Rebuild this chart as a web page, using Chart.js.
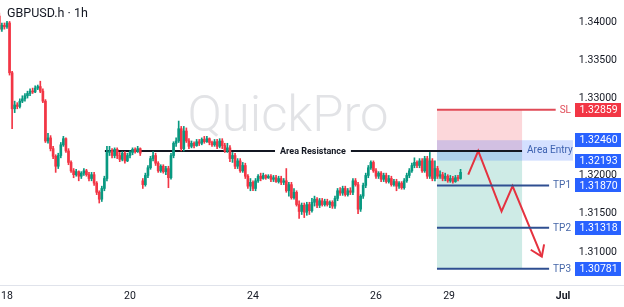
<!DOCTYPE html>
<html>
<head>
<meta charset="utf-8">
<script src="https://cdn.jsdelivr.net/npm/chart.js@4.4.1/dist/chart.umd.min.js"></script>
<style>
  html, body { margin: 0; padding: 0; background: #fff; }
  #wrap { width: 624px; height: 307px; }
</style>
</head>
<body>
<div id="wrap"><canvas id="myChart"></canvas></div>
<script>
// hourly candles, hour 0 = the "18" label
const firstHour = -3;
const opens = [
  1.3408, 1.3391, 1.3396, 1.3394, 1.3399, 1.3334, 1.3287, 1.3292, 1.3290, 1.3297,
  1.3300, 1.3304, 1.3307, 1.3310, 1.3309, 1.3314, 1.3316, 1.3310, 1.3297, 1.3245,
  1.3249, 1.3235, 1.3225, 1.3212, 1.3226, 1.3240, 1.3248, 1.3232, 1.3217, 1.3206,
  1.3201, 1.3205, 1.3199, 1.3203, 1.3206, 1.3201, 1.3196, 1.3201, 1.3190, 1.3178,
  1.3169, 1.3183, 1.3196, 1.3230, 1.3232, 1.3226, 1.3234, 1.3226, 1.3221, 1.3229,
  1.3219, 1.3226, 1.3230, 1.3234, 1.3231, 1.3235, 1.3193, 1.3188, 1.3200, 1.3210,
  1.3222, 1.3226, 1.3216, 1.3206, 1.3212, 1.3205, 1.3209, 1.3197, 1.3226, 1.3242,
  1.3245, 1.3261, 1.3235, 1.3258, 1.3245, 1.3238, 1.3242, 1.3239, 1.3244, 1.3242,
  1.3247, 1.3244, 1.3248, 1.3243, 1.3240, 1.3244, 1.3238, 1.3245, 1.3239, 1.3232,
  1.3236, 1.3222, 1.3226, 1.3212, 1.3219, 1.3206, 1.3213, 1.3199, 1.3186, 1.3191,
  1.3183, 1.3193, 1.3199, 1.3196, 1.3200, 1.3197, 1.3199, 1.3195, 1.3197, 1.3192,
  1.3196, 1.3191, 1.3193, 1.3180, 1.3188, 1.3171, 1.3178, 1.3162, 1.3153, 1.3161,
  1.3152, 1.3162, 1.3154, 1.3165, 1.3169, 1.3161, 1.3167, 1.3162, 1.3166, 1.3162,
  1.3165, 1.3160, 1.3170, 1.3180, 1.3177, 1.3183, 1.3175, 1.3180, 1.3178, 1.3193,
  1.3188, 1.3156, 1.3173, 1.3187, 1.3200, 1.3210, 1.3217, 1.3206, 1.3199, 1.3203,
  1.3195, 1.3200, 1.3192, 1.3196, 1.3188, 1.3192, 1.3186, 1.3190, 1.3184, 1.3193,
  1.3200, 1.3206, 1.3213, 1.3217, 1.3213, 1.3219, 1.3206, 1.3222, 1.3199, 1.3219,
  1.3196, 1.3209, 1.3199, 1.3201, 1.3196, 1.3199, 1.3193, 1.3196, 1.3192, 1.3197, 1.3196
];
const highs = [
  1.3412, 1.3399, 1.3399, 1.3401, 1.3401, 1.3336, 1.3297, 1.3295, 1.3300, 1.3304,
  1.3307, 1.3310, 1.3313, 1.3314, 1.3317, 1.3318, 1.3323, 1.3313, 1.3299, 1.3255,
  1.3252, 1.3238, 1.3227, 1.3229, 1.3243, 1.3251, 1.3249, 1.3235, 1.3219, 1.3209,
  1.3208, 1.3206, 1.3205, 1.3209, 1.3208, 1.3204, 1.3204, 1.3204, 1.3192, 1.3180,
  1.3186, 1.3199, 1.3238, 1.3238, 1.3235, 1.3236, 1.3236, 1.3230, 1.3231, 1.3231,
  1.3229, 1.3232, 1.3236, 1.3236, 1.3238, 1.3236, 1.3196, 1.3203, 1.3213, 1.3225,
  1.3231, 1.3229, 1.3218, 1.3214, 1.3214, 1.3212, 1.3212, 1.3229, 1.3244, 1.3249,
  1.3271, 1.3264, 1.3264, 1.3262, 1.3248, 1.3245, 1.3244, 1.3247, 1.3247, 1.3249,
  1.3251, 1.3251, 1.3249, 1.3245, 1.3247, 1.3247, 1.3248, 1.3248, 1.3242, 1.3242,
  1.3239, 1.3230, 1.3229, 1.3222, 1.3222, 1.3217, 1.3216, 1.3201, 1.3196, 1.3193,
  1.3196, 1.3201, 1.3203, 1.3203, 1.3201, 1.3201, 1.3201, 1.3200, 1.3200, 1.3199,
  1.3199, 1.3196, 1.3209, 1.3191, 1.3191, 1.3183, 1.3180, 1.3167, 1.3164, 1.3164,
  1.3165, 1.3165, 1.3170, 1.3173, 1.3171, 1.3170, 1.3170, 1.3169, 1.3169, 1.3167,
  1.3167, 1.3173, 1.3183, 1.3184, 1.3186, 1.3186, 1.3183, 1.3184, 1.3196, 1.3196,
  1.3191, 1.3175, 1.3190, 1.3203, 1.3213, 1.3219, 1.3219, 1.3209, 1.3205, 1.3205,
  1.3203, 1.3203, 1.3200, 1.3199, 1.3195, 1.3195, 1.3192, 1.3192, 1.3196, 1.3203,
  1.3209, 1.3216, 1.3223, 1.3219, 1.3222, 1.3222, 1.3225, 1.3225, 1.3230, 1.3222,
  1.3219, 1.3212, 1.3206, 1.3204, 1.3203, 1.3201, 1.3200, 1.3199, 1.3200, 1.3200, 1.3208
];
const lows = [
  1.3388, 1.3388, 1.3391, 1.3392, 1.3331, 1.3261, 1.3282, 1.3287, 1.3288, 1.3295,
  1.3297, 1.3301, 1.3304, 1.3307, 1.3308, 1.3312, 1.3308, 1.3295, 1.3243, 1.3242,
  1.3232, 1.3222, 1.3204, 1.3209, 1.3223, 1.3238, 1.3230, 1.3214, 1.3204, 1.3197,
  1.3199, 1.3193, 1.3196, 1.3200, 1.3199, 1.3193, 1.3193, 1.3187, 1.3175, 1.3164,
  1.3166, 1.3180, 1.3193, 1.3226, 1.3223, 1.3223, 1.3222, 1.3218, 1.3219, 1.3216,
  1.3218, 1.3223, 1.3227, 1.3229, 1.3230, 1.3226, 1.3183, 1.3186, 1.3197, 1.3208,
  1.3219, 1.3213, 1.3204, 1.3204, 1.3203, 1.3201, 1.3184, 1.3195, 1.3223, 1.3238,
  1.3243, 1.3232, 1.3232, 1.3243, 1.3235, 1.3236, 1.3236, 1.3238, 1.3239, 1.3240,
  1.3242, 1.3243, 1.3240, 1.3238, 1.3238, 1.3235, 1.3236, 1.3235, 1.3230, 1.3230,
  1.3218, 1.3217, 1.3209, 1.3209, 1.3204, 1.3204, 1.3196, 1.3183, 1.3180, 1.3180,
  1.3180, 1.3191, 1.3193, 1.3195, 1.3195, 1.3196, 1.3192, 1.3192, 1.3191, 1.3190,
  1.3188, 1.3188, 1.3178, 1.3173, 1.3169, 1.3169, 1.3160, 1.3144, 1.3149, 1.3145,
  1.3148, 1.3149, 1.3152, 1.3160, 1.3158, 1.3158, 1.3160, 1.3160, 1.3160, 1.3158,
  1.3157, 1.3157, 1.3167, 1.3174, 1.3174, 1.3173, 1.3173, 1.3175, 1.3175, 1.3186,
  1.3150, 1.3153, 1.3170, 1.3184, 1.3197, 1.3208, 1.3204, 1.3196, 1.3196, 1.3192,
  1.3192, 1.3190, 1.3190, 1.3186, 1.3186, 1.3180, 1.3183, 1.3182, 1.3182, 1.3191,
  1.3197, 1.3204, 1.3210, 1.3210, 1.3210, 1.3204, 1.3204, 1.3196, 1.3196, 1.3193,
  1.3193, 1.3196, 1.3196, 1.3193, 1.3193, 1.3191, 1.3191, 1.3190, 1.3191, 1.3193, 1.3195
];
const closes = [
  1.3391, 1.3396, 1.3394, 1.3399, 1.3334, 1.3287, 1.3292, 1.3290, 1.3297, 1.3300,
  1.3304, 1.3307, 1.3310, 1.3309, 1.3314, 1.3316, 1.3310, 1.3297, 1.3245, 1.3249,
  1.3235, 1.3225, 1.3212, 1.3226, 1.3240, 1.3248, 1.3232, 1.3217, 1.3206, 1.3201,
  1.3205, 1.3199, 1.3203, 1.3206, 1.3201, 1.3196, 1.3201, 1.3190, 1.3178, 1.3169,
  1.3183, 1.3196, 1.3230, 1.3232, 1.3226, 1.3234, 1.3226, 1.3221, 1.3229, 1.3219,
  1.3226, 1.3230, 1.3234, 1.3231, 1.3235, 1.3229, 1.3188, 1.3200, 1.3210, 1.3222,
  1.3226, 1.3216, 1.3206, 1.3212, 1.3205, 1.3209, 1.3197, 1.3226, 1.3242, 1.3245,
  1.3261, 1.3235, 1.3258, 1.3245, 1.3238, 1.3242, 1.3239, 1.3244, 1.3242, 1.3247,
  1.3244, 1.3248, 1.3243, 1.3240, 1.3244, 1.3238, 1.3245, 1.3239, 1.3232, 1.3236,
  1.3222, 1.3226, 1.3212, 1.3219, 1.3206, 1.3213, 1.3199, 1.3186, 1.3191, 1.3183,
  1.3193, 1.3199, 1.3196, 1.3200, 1.3197, 1.3199, 1.3195, 1.3197, 1.3192, 1.3196,
  1.3191, 1.3193, 1.3180, 1.3188, 1.3171, 1.3178, 1.3162, 1.3153, 1.3161, 1.3152,
  1.3162, 1.3154, 1.3165, 1.3169, 1.3161, 1.3167, 1.3162, 1.3166, 1.3162, 1.3165,
  1.3160, 1.3170, 1.3180, 1.3177, 1.3183, 1.3175, 1.3180, 1.3178, 1.3193, 1.3188,
  1.3156, 1.3173, 1.3187, 1.3200, 1.3210, 1.3217, 1.3206, 1.3199, 1.3203, 1.3195,
  1.3200, 1.3192, 1.3196, 1.3188, 1.3192, 1.3186, 1.3190, 1.3184, 1.3193, 1.3200,
  1.3206, 1.3213, 1.3217, 1.3213, 1.3219, 1.3206, 1.3222, 1.3199, 1.3219, 1.3196,
  1.3209, 1.3199, 1.3201, 1.3196, 1.3199, 1.3193, 1.3196, 1.3192, 1.3197, 1.3196, 1.3204
];

// axes
const xTickHours = [0, 48, 96, 144, 172.5, 217];
const xTickLabels = ["18", "20", "24", "26", "29", "Jul"];
const yTickValues = [1.34, 1.335, 1.33, 1.32, 1.315, 1.31];

// trade plan
const levelNames = ["SL", "TP1", "TP2", "TP3"];
const levelPrices = [1.32859, 1.31870, 1.31318, 1.30781];
const entryZone = [1.32460, 1.32193];
const entryPrice = 1.3232;
const resistanceStart = 38.2;
const planStart = 167.8;
const planEnd = 201;
const levelEnd = 214.6;
const resistanceLabelHour = 119.4;

// projected path (hour, price)
const pathHours = [180, 183.9, 193, 197.3, 208.7];
const pathPrices = [1.3201, 1.3232, 1.3153, 1.3186, 1.3094];
const headHours = [204.4, 208.7, 209.6];
const headPrices = [1.3103, 1.3094, 1.3110];

const upColor = "#089981";
const downColor = "#f23645";
const textColor = "#131722";
const FONT = "Roboto";

const candleColors = closes.map((c, i) => c >= opens[i] ? upColor : downColor);
const wickData = highs.map((h, i) => ({ x: firstHour + i, y: [lows[i], h] }));
const bodyData = opens.map((o, i) => ({ x: firstHour + i, y: [Math.min(o, closes[i]), Math.max(o, closes[i])] }));

function lineSet(xs, ys, color, width) {
    return {
        type: "line",
        data: xs.map((x, i) => ({ x: x, y: ys[i] })),
        borderColor: color,
        borderWidth: width,
        pointRadius: 0,
        fill: false,
        tension: 0
    };
}

// no extra room for edge labels
function noPadding(s) {
    s.paddingTop = 0;
    s.paddingBottom = 0;
    s.paddingLeft = 0;
    s.paddingRight = 0;
}

const levelColors = ["#e04b57", "#2f4f91", "#2f4f91", "#2f4f91"];
const levelSets = levelPrices.map((p, i) => lineSet([planStart, levelEnd], [p, p], levelColors[i], 2));

// drawing of zones, watermark and labels
const overlay = {
    id: "overlay",
    beforeDatasetsDraw(chart) {
        const { ctx, chartArea } = chart;
        const px = v => chart.scales.x.getPixelForValue(v);
        const py = v => chart.scales.y.getPixelForValue(v);
        ctx.save();

        // watermark
        ctx.font = "300 50px " + FONT;
        let w = ctx.measureText("QuickPro").width;
        let size = 50 * 201 / w;
        ctx.font = "300 " + size.toFixed(1) + "px " + FONT;
        ctx.fillStyle = "#e2e3e6";
        ctx.textAlign = "center";
        ctx.textBaseline = "alphabetic";
        ctx.fillText("QuickPro", 288, 131);

        // bottom axis line
        ctx.fillStyle = "#e0e3eb";
        ctx.fillRect(0, Math.round(chartArea.bottom), chart.width, 1);

        // risk / reward boxes
        const x0 = px(planStart), x1 = px(planEnd);
        ctx.fillStyle = "rgba(242,54,69,0.2)";
        ctx.fillRect(x0, py(levelPrices[0]), x1 - x0, py(entryPrice) - py(levelPrices[0]));
        ctx.fillStyle = "rgba(8,153,129,0.2)";
        ctx.fillRect(x0, py(entryPrice), x1 - x0, py(levelPrices[3]) - py(entryPrice));

        // entry zone band
        ctx.fillStyle = "rgba(41,98,255,0.2)";
        ctx.fillRect(x0, py(entryZone[0]), chartArea.right - 2 - x0, py(entryZone[1]) - py(entryZone[0]));
        ctx.restore();
    },
    afterDatasetsDraw(chart) {
        const { ctx, chartArea } = chart;
        const px = v => chart.scales.x.getPixelForValue(v);
        const py = v => chart.scales.y.getPixelForValue(v);
        ctx.save();
        ctx.textBaseline = "middle";

        // resistance label
        ctx.font = "bold 9px " + FONT;
        const rText = "Area Resistance";
        const rw = ctx.measureText(rText).width;
        const rx = px(resistanceLabelHour), ry = py(entryPrice);
        ctx.fillStyle = "#fff";
        ctx.fillRect(rx - rw / 2 - 5, ry - 5, rw + 10, 10);
        ctx.fillStyle = textColor;
        ctx.textAlign = "center";
        ctx.fillText(rText, rx, ry + 0.5);

        // entry zone text
        ctx.font = "10px " + FONT;
        ctx.textAlign = "left";
        ctx.fillStyle = "#3d62b0";
        ctx.fillText("Area Entry", px(planEnd) + 5, (py(entryZone[0]) + py(entryZone[1])) / 2 + 0.5);

        // level names
        const nameRight = chartArea.right - 4;
        levelNames.forEach((n, i) => {
            const y = py(levelPrices[i]);
            const tw = ctx.measureText(n).width;
            ctx.fillStyle = "#fff";
            ctx.fillRect(nameRight - tw - 4, y - 3, tw + 4, 6);
            ctx.fillStyle = i === 0 ? "#e04b57" : "#4566a8";
            ctx.textAlign = "right";
            ctx.fillText(n, nameRight, y + 0.5);
        });

        // price boxes on the scale
        const boxes = [
            [levelPrices[0], downColor],
            [entryZone[0], "#2962ff"],
            [entryZone[1], "#2962ff"],
            [levelPrices[1], "#2962ff"],
            [levelPrices[2], "#2962ff"],
            [levelPrices[3], "#2962ff"]
        ];
        ctx.font = "10.5px " + FONT;
        ctx.textAlign = "center";
        boxes.forEach(([p, c]) => {
            const y = py(p);
            ctx.fillStyle = c;
            ctx.fillRect(chartArea.right, Math.round(y - 7), 46, 14);
            ctx.fillStyle = "#fff";
            ctx.fillText(p.toFixed(5), chartArea.right + 23.5, y + 0.5);
        });

        // symbol title
        ctx.font = "12.5px " + FONT;
        ctx.textAlign = "left";
        ctx.fillStyle = textColor;
        ctx.fillText("GBPUSD.h · 1h", 7, 14);
        ctx.restore();
    }
};

new Chart(document.getElementById("myChart"), {
    type: "bar",
    data: {
        datasets: [
            {
                data: wickData,
                backgroundColor: candleColors,
                barThickness: 1,
                grouped: false
            },
            {
                data: bodyData,
                backgroundColor: candleColors,
                barThickness: 2,
                minBarLength: 1,
                grouped: false
            },
            lineSet([resistanceStart, planEnd], [entryPrice, entryPrice], textColor, 2),
            ...levelSets,
            lineSet(pathHours, pathPrices, "#e5323f", 2),
            lineSet(headHours, headPrices, "#e5323f", 2)
        ]
    },
    options: {
        responsive: true,
        maintainAspectRatio: false,
        animation: false,
        events: [],
        layout: { padding: { left: 0, right: 7, top: 0, bottom: 0 } },
        plugins: { legend: { display: false }, tooltip: { enabled: false } },
        scales: {
            x: {
                type: "linear",
                offset: false,
                min: -2.73,
                max: 221.66,
                grid: { display: false, drawTicks: false },
                border: { display: false },
                afterBuildTicks: s => { s.ticks = xTickHours.map(v => ({ value: v })); },
                afterFit: s => { s.height = 22; noPadding(s); },
                ticks: {
                    autoSkip: false,
                    maxRotation: 0,
                    padding: 5,
                    color: textColor,
                    font: ctx => ({ family: FONT, size: 10.5, weight: ctx.index === 5 ? "bold" : "normal" }),
                    callback: (v, i) => xTickLabels[i]
                }
            },
            y: {
                position: "right",
                min: 1.3057,
                max: 1.3429,
                grid: { display: false, drawTicks: false },
                border: { display: false },
                afterBuildTicks: s => { s.ticks = yTickValues.map(v => ({ value: v })); },
                afterFit: s => { s.width = 42; noPadding(s); },
                ticks: {
                    crossAlign: "far",
                    color: textColor,
                    font: { family: FONT, size: 10.5 },
                    callback: v => v.toFixed(5)
                }
            }
        }
    },
    plugins: [overlay]
});
</script>
</body>
</html>
